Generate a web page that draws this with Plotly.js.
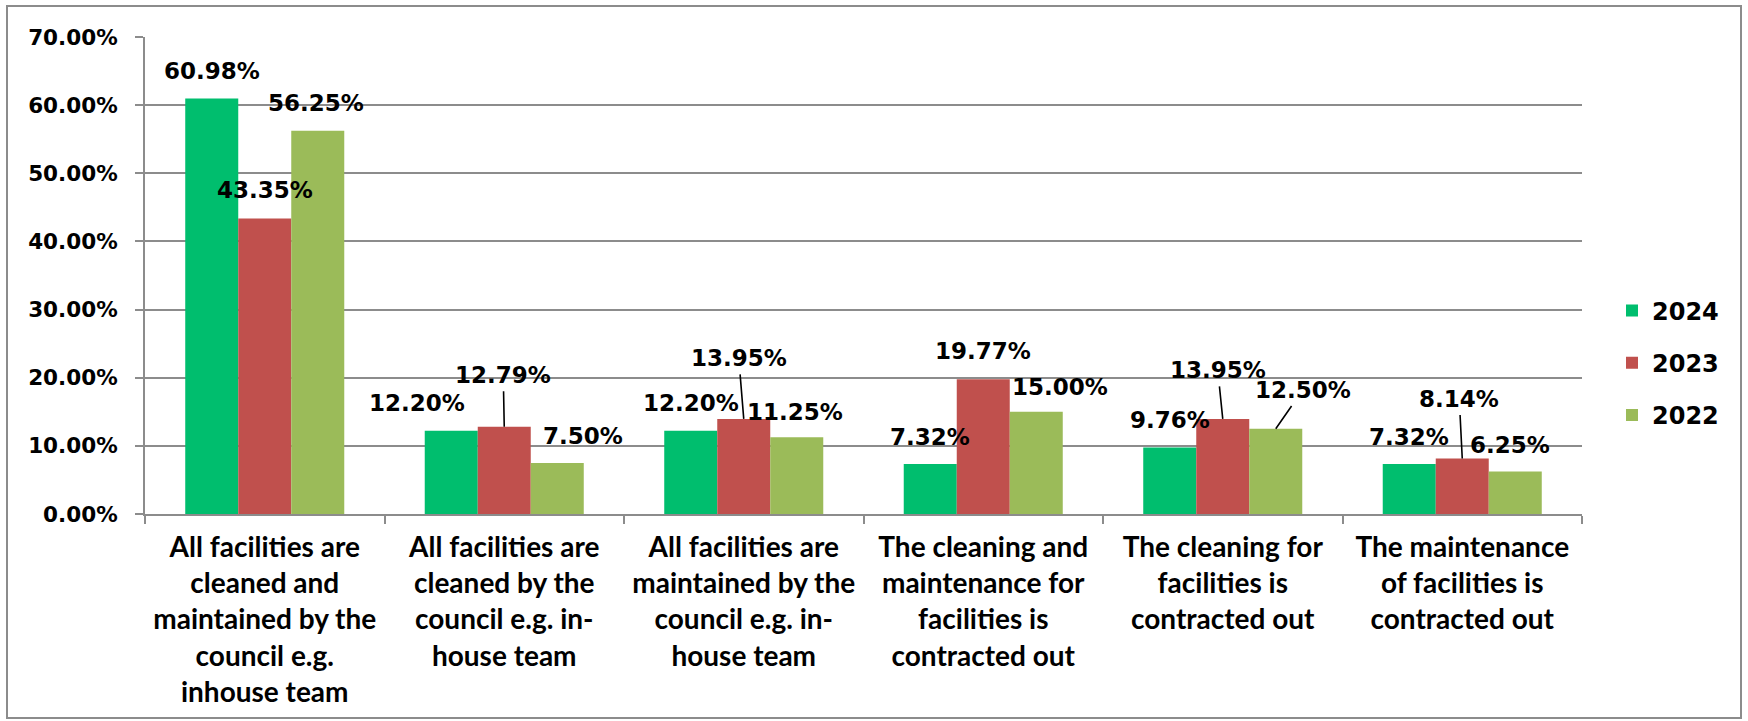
<!DOCTYPE html>
<html>
<head>
<meta charset="utf-8">
<script src="https://cdn.plot.ly/plotly-3.0.1.min.js"></script>
<style>
  html, body { margin: 0; padding: 0; background: #ffffff; }
  #chart { width: 1748px; height: 721px; }
</style>
</head>
<body>
<div id="chart"></div>
<script>
// ---------- data ----------
const categories = [
  "All facilities are<br>cleaned and<br>maintained by the<br>council e.g.<br>inhouse team",
  "All facilities are<br>cleaned by the<br>council e.g. in-<br>house team",
  "All facilities are<br>maintained by the<br>council e.g. in-<br>house team",
  "The cleaning and<br>maintenance for<br>facilities is<br>contracted out",
  "The cleaning for<br>facilities is<br>contracted out",
  "The maintenance<br>of facilities is<br>contracted out"
];
const seriesNames = ["2024", "2023", "2022"];
const values2024 = [60.98, 12.20, 12.20, 7.32, 9.76, 7.32];
const values2023 = [43.35, 12.79, 13.95, 19.77, 13.95, 8.14];
const values2022 = [56.25, 7.50, 11.25, 15.00, 12.50, 6.25];
const yTickValues = [0, 10, 20, 30, 40, 50, 60, 70];
const yTickLabels = ["0.00%", "10.00%", "20.00%", "30.00%", "40.00%", "50.00%", "60.00%", "70.00%"];

// ---------- styling / label placement (pixels) ----------
const colors = ["#00BE6E", "#C0504D", "#9BBB59"];
const BARGAP = 0.336;
// [dx, dy, leaderLine]
const labelPlacement = [
  [[0,27,false],[-34,28,false],[0,28,false],[0,27,false],[0,27,false],[0,27,false]],
  [[0,29,false],[-1,52,true],[-5,61,true],[0,28,false],[-5,49,true],[-3,60,true]],
  [[-2,28,false],[26,27,false],[-2,25,false],[24,25,false],[27,39,true],[-5,26,false]]
];

const allValues = [values2024, values2023, values2022];
const labelFont = {family: "DejaVu Sans", size: 23, color: "#000000", weight: "bold"};

const traces = allValues.map((vals, s) => ({
  type: "bar",
  name: seriesNames[s],
  x: categories,
  y: vals,
  marker: {color: colors[s]},
  legendgroup: "g" + s,
  hoverinfo: "skip"
}));

const barW = (1 - BARGAP) / 3;
const annotations = [];
allValues.forEach((vals, s) => {
  vals.forEach((v, i) => {
    const p = labelPlacement[s][i];
    const txt = v.toFixed(2) + "%";
    const base = {
      x: i + (s - 1) * barW, y: v, xref: "x", yref: "y",
      text: txt, font: labelFont
    };
    if (p[2]) {
      Object.assign(base, {showarrow: true, arrowhead: 0, arrowwidth: 1.6,
        arrowcolor: "#000000", ax: p[0], ay: -p[1], standoff: 0, startstandoff: 2});
    } else {
      Object.assign(base, {showarrow: false, xshift: p[0], yshift: p[1]});
    }
    annotations.push(base);
  });
});

const L = 145, R = 1582, T = 37, B = 514;
const pw = R - L, ph = B - T;
const shapes = [{
  type: "rect", xref: "paper", yref: "paper",
  x0: (7 - L) / pw, x1: (1741 - L) / pw,
  y0: (B - 718) / ph, y1: (B - 6) / ph,
  line: {color: "#8C8C8C", width: 2}, fillcolor: "rgba(0,0,0,0)", layer: "below"
}];

const layout = {
  width: 1748, height: 721,
  margin: {l: L, r: 1748 - R, t: T, b: 721 - B, autoexpand: false},
  paper_bgcolor: "#ffffff", plot_bgcolor: "#ffffff",
  barmode: "group", bargap: BARGAP, bargroupgap: 0,
  showlegend: true,
  legend: {
    x: (1612 - L) / pw, xanchor: "left", y: (B - 363) / ph, yanchor: "middle",
    font: {family: "DejaVu Sans", size: 24, color: "#000000", weight: "bold"},
    traceorder: "grouped", tracegroupgap: 18, bgcolor: "rgba(0,0,0,0)"
  },
  xaxis: {
    type: "category",
    showline: true, linecolor: "#8C8C8C", linewidth: 2,
    ticks: "outside", tickson: "boundaries", ticklen: 8, tickcolor: "#8C8C8C", tickwidth: 2,
    showgrid: false, zeroline: false,
    tickfont: {family: "Lato", size: 28, color: "#000000", weight: "bold"},
    ticklabelstandoff: 7,
    fixedrange: true
  },
  yaxis: {
    range: [0, 70], tickmode: "array", tickvals: yTickValues, ticktext: yTickLabels,
    showline: true, linecolor: "#8C8C8C", linewidth: 2,
    ticks: "outside", ticklen: 8, tickcolor: "#8C8C8C", tickwidth: 2,
    showgrid: true, gridcolor: "#8C8C8C", gridwidth: 2,
    zeroline: false,
    tickfont: {family: "DejaVu Sans", size: 21.5, color: "#000000", weight: "bold"},
    ticklabelstandoff: 13,
    fixedrange: true
  },
  annotations: annotations,
  shapes: shapes
};

Plotly.newPlot("chart", traces, layout, {displayModeBar: false, staticPlot: true});
</script>
</body>
</html>
